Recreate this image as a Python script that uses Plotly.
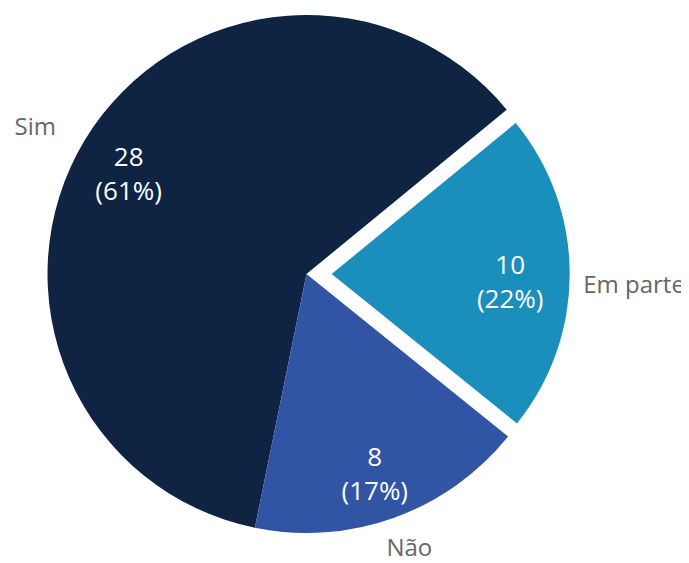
import plotly.graph_objects as go

# ---- data ----
labels = ["Sim", "Em parte", "Não"]
values = [28, 10, 8]
colors = ["#0e2442", "#1a8fbb", "#3154a5"]
value_fmt = "%{value}<br>(%{percent:.0%})"

# ---- layout helpers (page has an 8px body margin) ----
W, H, OFF = 681, 555, 8
FONT = "Open Sans"
CLEAR = "rgba(0,0,0,0)"


def dom(cx, cy, r):
    return dict(x=[(cx - OFF - r) / W, (cx - OFF + r) / W],
                y=[1 - (cy - OFF + r) / H, 1 - (cy - OFF - r) / H])


def pie(domain, **kw):
    return go.Pie(labels=labels, values=values, sort=False, direction="clockwise",
                  rotation=191.5, domain=domain, hoverinfo="skip", showlegend=False,
                  **kw)


def pick(items, keep, other):
    return [it if i in keep else other for i, it in enumerate(items)]


fig = go.Figure()
main = dom(306.5, 274, 259)
pulled = dom(331.7, 274, 238)

# slices: Sim + Não, and the exploded "Em parte"
fig.add_trace(pie(main, marker=dict(colors=pick(colors, {0, 2}, CLEAR), line=dict(width=0)),
                  textinfo="none"))
fig.add_trace(pie(pulled, marker=dict(colors=pick(colors, {1}, CLEAR), line=dict(width=0)),
                  textinfo="none"))

# values inside
fig.add_trace(pie(dom(305, 279, 259), hole=0.59,
                  marker=dict(colors=[CLEAR] * 3, line=dict(width=0)),
                  texttemplate=pick([value_fmt] * 3, {0, 2}, ""),
                  textposition="inside", insidetextorientation="horizontal",
                  insidetextfont=dict(family=FONT, size=26, color="white")))
fig.add_trace(pie(dom(331.7, 282, 238), hole=0.5,
                  marker=dict(colors=[CLEAR] * 3, line=dict(width=0)),
                  texttemplate=pick([value_fmt] * 3, {1}, ""),
                  textposition="inside", insidetextorientation="horizontal",
                  insidetextfont=dict(family=FONT, size=26, color="white")))

# category labels outside
for idx, (cx, cy, r) in enumerate([(279.3, 259, 251), (335, 284.1, 240), (310.4, 344, 200)]):
    fig.add_trace(pie(dom(cx, cy, r),
                      marker=dict(colors=[CLEAR] * 3, line=dict(width=0)),
                      texttemplate=pick(["%{label}"] * 3, {idx}, ""),
                      textposition="outside",
                      outsidetextfont=dict(family=FONT, size=24, color="#666666")))

fig.update_layout(
    width=W, height=H,
    margin=dict(l=0, r=0, t=0, b=0, autoexpand=False),
    paper_bgcolor="white", plot_bgcolor="white",
)
fig.write_html("out.html")
